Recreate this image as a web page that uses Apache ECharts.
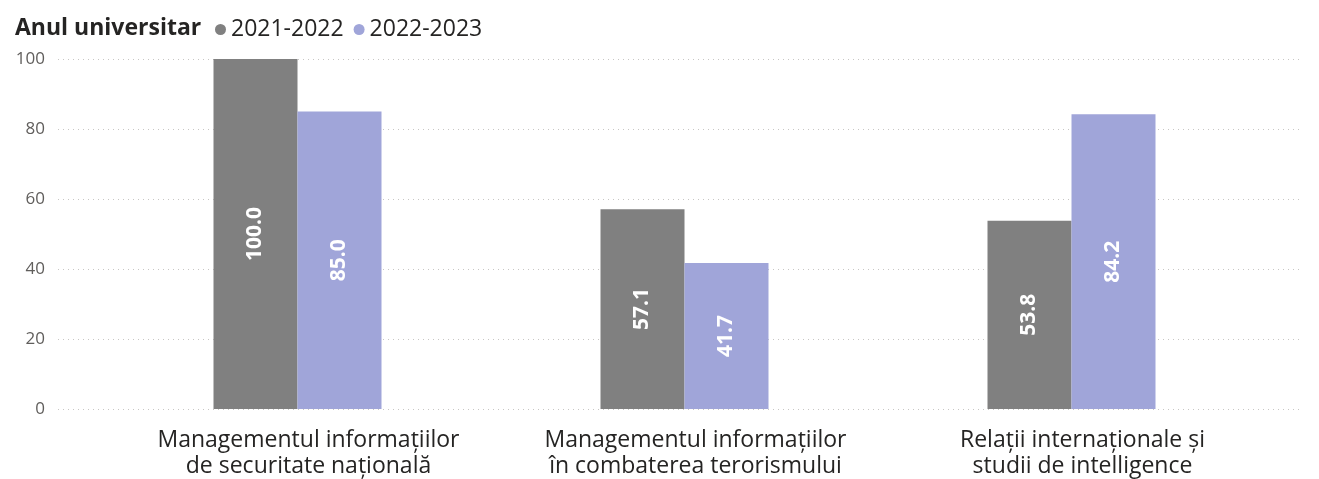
<!DOCTYPE html>
<html>
<head>
<meta charset="utf-8">
<script src="https://cdn.jsdelivr.net/npm/echarts@6/dist/echarts.min.js"></script>
<style>
  html, body { margin: 0; padding: 0; background: #fff; }
  #chart { width: 1319px; height: 479px; }
</style>
</head>
<body>
<div id="chart"></div>
<script>
// Data
const categories = [
    'Managementul informațiilor\nde securitate națională',
    'Managementul informațiilor\nîn combaterea terorismului',
    'Relații internaționale și\nstudii de intelligence'
];
const seriesNames = ['2021-2022', '2022-2023'];
const values2122 = [100.0, 57.1, 53.8];
const values2223 = [85.0, 41.7, 84.2];
const yTicks = [0, 20, 40, 60, 80, 100];

const colors = ['#808080', '#A0A5D9'];
const font = '"Open Sans", "Noto Sans", sans-serif';

const chart = echarts.init(document.getElementById('chart'));

const barLabel = {
    show: true,
    position: 'inside',
    rotate: 90,
    color: '#fff',
    fontWeight: 'bold',
    fontSize: 21,
    fontFamily: font,
    formatter: p => p.value.toFixed(1)
};

const option = {
    animation: false,
    title: {
        text: 'Anul universitar',
        left: 10,
        top: 12,
        textStyle: { fontSize: 23, fontWeight: 'bold', color: '#252423', fontFamily: font }
    },
    legend: {
        left: 210,
        top: 13,
        icon: 'circle',
        itemWidth: 11,
        itemHeight: 11,
        itemGap: 10,
        textStyle: { fontSize: 23, color: '#252423', fontFamily: font },
        data: seriesNames
    },
    grid: [
        // gridlines + y labels
        { left: 58, right: 19, top: 59, bottom: 70 },
        // bars
        { left: 104, right: 54, top: 59, bottom: 70 }
    ],
    xAxis: [
        { gridIndex: 0, type: 'value', show: false },
        {
            gridIndex: 1,
            type: 'category',
            data: categories,
            axisLine: { show: false },
            axisTick: { show: false },
            axisLabel: {
                fontSize: 23,
                color: '#252423',
                fontFamily: font,
                margin: 18,
                lineHeight: 26,
                padding: [0, 0, 0, 22],
                interval: 0
            }
        }
    ],
    yAxis: [
        {
            gridIndex: 0,
            type: 'value',
            min: 0,
            max: 100,
            interval: 20,
            axisLine: { show: false },
            axisTick: { show: false },
            axisLabel: {
                fontSize: 17,
                color: '#605E5C',
                fontFamily: font,
                margin: 13,
                formatter: v => yTicks.includes(v) ? String(v) : ''
            },
            splitLine: { lineStyle: { color: '#C8C6C4', type: [1, 4], width: 1 } }
        },
        { gridIndex: 1, type: 'value', min: 0, max: 100, show: false }
    ],
    series: [
        {
            name: seriesNames[0],
            type: 'bar',
            xAxisIndex: 1,
            yAxisIndex: 1,
            data: values2122,
            barWidth: 84,
            barGap: '0%',
            itemStyle: { color: colors[0] },
            label: barLabel
        },
        {
            name: seriesNames[1],
            type: 'bar',
            xAxisIndex: 1,
            yAxisIndex: 1,
            data: values2223,
            barWidth: 84,
            barGap: '0%',
            itemStyle: { color: colors[1] },
            label: barLabel
        }
    ]
};

chart.setOption(option);
</script>
</body>
</html>
